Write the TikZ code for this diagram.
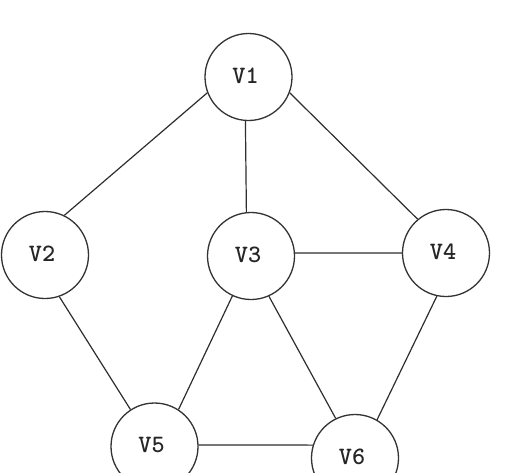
\documentclass[tikz,border=0pt]{standalone}
\begin{document}
\begin{tikzpicture}[x=1pt,y=-1pt,
  vertex/.style={circle,draw=black!80,line width=1.3pt,minimum size=87pt,inner sep=0pt,fill=white,
    font=\ttfamily\bfseries\fontsize{25}{25}\selectfont,text=black!85},
  edge/.style={draw=black!82,line width=1.2pt}]
\newcommand{\vlab}[1]{\raisebox{3pt}{#1}\hspace*{6pt}}
\useasboundingbox (0,0) rectangle (518,472);
\clip (0,0) rectangle (518,472);
\fill[white] (0,0) rectangle (518,472);
\node[vertex] (V1) at (248.5,77) {\vlab{V1}};
\node[vertex] (V2) at (45,255) {\vlab{V2}};
\node[vertex] (V3) at (251,256) {\vlab{V3}};
\node[vertex] (V4) at (446,253) {\vlab{V4}};
\node[vertex] (V5) at (154.5,446.5) {\vlab{V5}};
\node[vertex] (V6) at (355,458) {\vlab{V6}};
\draw[edge] (V1.201) -- (V2.64.5);
\draw[edge] (V1.339) -- (V4.130.3);
\draw[edge] (V1.266.4) -- (V3.96.7);
\draw[edge] (V3.4) -- (V4.180);
\draw[edge] (V2.289.7) -- (V5.123.9);
\draw[edge] (V3.245.1) -- (V5.57.2);
\draw[edge] (V3.294.9) -- (V6.116);
\draw[edge] (V4.258.4) -- (V6.60.1);
\draw[edge] (V5.2) -- (V6.163.2);
\end{tikzpicture}
\end{document}
